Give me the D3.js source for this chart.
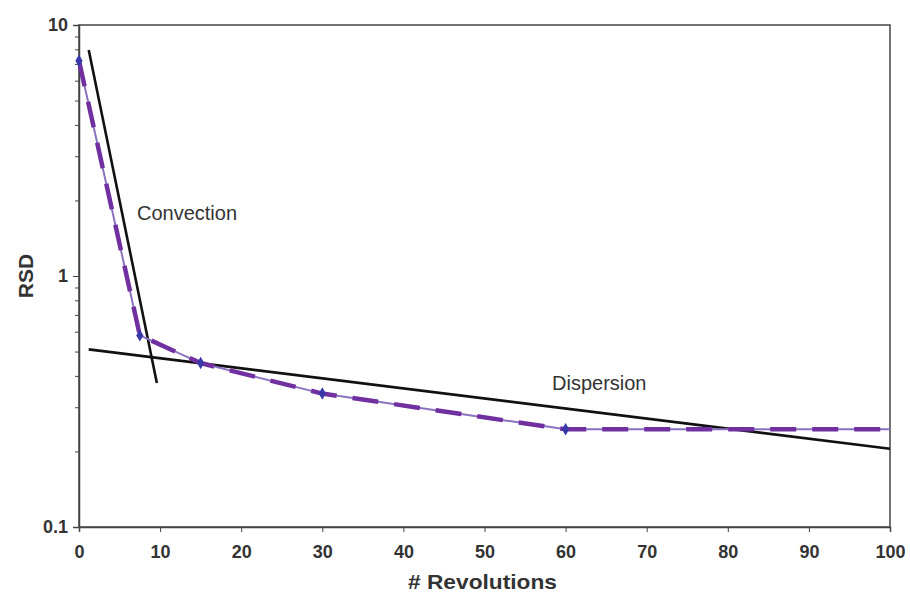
<!DOCTYPE html>
<html>
<head>
<meta charset="utf-8">
<script src="https://cdn.jsdelivr.net/npm/d3@7"></script>
<style>
  body { margin: 0; background: #fff; }
  text { font-family: "Liberation Sans", Arial, sans-serif; }
  .tick text { font-weight: bold; font-size: 18px; fill: #333; }
  .axis path, .axis line { stroke: #444; }
</style>
</head>
<body>
<div id="chart"></div>
<script>
// measured RSD vs revolutions
const revolutions = [0, 7.5, 15, 30, 60, 100];
const rsd = [7.2, 0.58, 0.45, 0.34, 0.245, 0.245];

// fitted regimes
const convection = [[1.2, 7.95], [9.6, 0.375]];
const dispersion = [[1.2, 0.51], [100, 0.205]];

const xTicks = [0, 10, 20, 30, 40, 50, 60, 70, 80, 90, 100];
const yTicks = [0.1, 1, 10];

const width = 910, height = 594;
const margin = {top: 25, right: 20, bottom: 67, left: 79};

const svg = d3.select("#chart")
  .append("svg")
  .attr("width", width)
  .attr("height", height);

const x = d3.scaleLinear().domain([0, 100]).range([margin.left, width - margin.right]);
const y = d3.scaleLog().domain([0.1, 10]).range([height - margin.bottom, margin.top]);

// frame
svg.append("rect")
  .attr("x", margin.left)
  .attr("y", margin.top)
  .attr("width", width - margin.left - margin.right)
  .attr("height", height - margin.top - margin.bottom)
  .attr("fill", "none")
  .attr("stroke", "#444")
  .attr("stroke-width", 1.5);

// axes
svg.append("g")
  .attr("class", "axis")
  .attr("transform", `translate(0,${height - margin.bottom})`)
  .call(d3.axisBottom(x).tickValues(xTicks).tickSize(5).tickPadding(13))
  .call(g => g.select(".domain").attr("stroke-width", 1.5));

const minor = [];
for (let d = 0.1; d < 10; d *= 10) {
  for (let k = 2; k <= 9; k++) minor.push(d * k);
}
svg.append("g")
  .attr("class", "axis")
  .attr("transform", `translate(${margin.left},0)`)
  .call(d3.axisLeft(y).tickValues(minor).tickSize(4).tickFormat(""))
  .call(g => g.select(".domain").remove());

svg.append("g")
  .attr("class", "axis")
  .attr("transform", `translate(${margin.left},0)`)
  .call(d3.axisLeft(y).tickValues(yTicks).tickSize(6).tickPadding(5).tickFormat(d3.format("")))
  .call(g => g.select(".domain").attr("stroke-width", 1.5));

// axis titles
svg.append("text")
  .attr("x", 408)
  .attr("y", 589)
  .attr("font-weight", "bold")
  .attr("font-size", 21)
  .attr("textLength", 149)
  .attr("lengthAdjust", "spacingAndGlyphs")
  .attr("fill", "#333")
  .text("# Revolutions");

svg.append("text")
  .attr("transform", `translate(33,${y(1)}) rotate(-90)`)
  .attr("text-anchor", "middle")
  .attr("font-weight", "bold")
  .attr("font-size", 21)
  .attr("fill", "#333")
  .text("RSD");

const line = d3.line()
  .x(d => x(d[0]))
  .y(d => y(d[1]));

// fit lines
[convection, dispersion].forEach(seg => {
  svg.append("path")
    .attr("d", line(seg))
    .attr("fill", "none")
    .attr("stroke", "#111")
    .attr("stroke-width", 2.6);
});

// data series
const pts = revolutions.map((r, i) => [r, rsd[i]]);
svg.append("path")
  .attr("d", line(pts))
  .attr("fill", "none")
  .attr("stroke", "#8a72c0")
  .attr("stroke-width", 2);
svg.append("path")
  .attr("d", line(pts))
  .attr("fill", "none")
  .attr("stroke", "#7030a0")
  .attr("stroke-width", 4.5)
  .attr("stroke-dasharray", "26,16");

svg.append("g").selectAll("path")
  .data(pts.slice(0, 5))
  .join("path")
  .attr("transform", d => `translate(${x(d[0])},${y(d[1])})`)
  .attr("d", d3.symbol(d3.symbolDiamond, 45))
  .attr("fill", "#3838a8");

// labels
svg.append("text")
  .attr("x", 137).attr("y", 220)
  .attr("font-size", 20)
  .attr("fill", "#333")
  .text("Convection");

svg.append("text")
  .attr("x", 552).attr("y", 390)
  .attr("font-size", 20)
  .attr("fill", "#333")
  .text("Dispersion");
</script>
</body>
</html>
